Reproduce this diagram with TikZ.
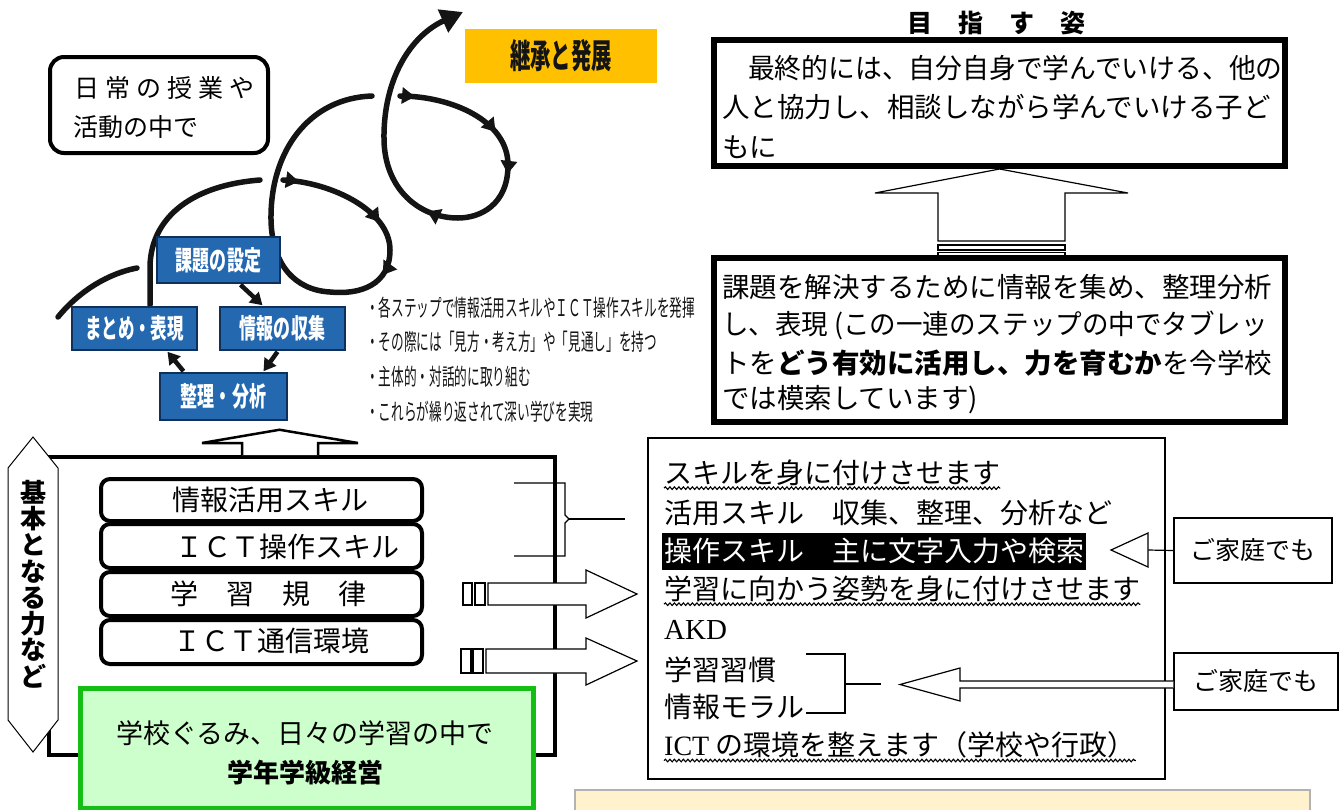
\documentclass[tikz,border=0pt]{standalone}
\usepackage{fontspec}
\usepackage{graphicx}
\setmainfont{Noto Sans CJK JP}
\newfontfamily\lserif{Liberation Serif}
\usetikzlibrary{arrows.meta,decorations.markings,decorations.pathmorphing,calc}
\newcommand{\fsz}[1]{\fontsize{#1}{#1}\selectfont}
\definecolor{bluefill}{RGB}{36,104,176}
\definecolor{bluedark}{RGB}{16,48,92}
\definecolor{orangey}{RGB}{255,192,0}
\definecolor{greenfill}{RGB}{204,255,204}
\definecolor{greenline}{RGB}{20,190,20}
\definecolor{cream}{RGB}{255,242,204}
\definecolor{ink}{RGB}{20,20,20}
\begin{document}
\begin{tikzpicture}[x=1pt,y=-1pt,
  txt/.style={inner sep=0pt},
  strand/.style={line width=5.5pt, draw=ink, line cap=round},
  bluebox/.style={draw=bluedark, fill=bluefill, line width=1.5pt, inner sep=0pt, text=white, font=\fsz{27}\bfseries},
  innerarrow/.style={line width=4.5pt, draw=ink, -{Triangle[length=12pt,width=14pt]}},
  skillbox/.style={draw, line width=4pt, rounded corners=9pt, minimum width=321pt, inner sep=0pt},
  hollow/.style={draw, line width=1.2pt, fill=white},
  thinline/.style={line width=1.2pt},
  wavy/.style={line width=1.1pt, decorate, decoration={snake, amplitude=1.3pt, segment length=4.5pt}},
  bigframe/.style={draw, line width=6pt, minimum width=571pt, inner sep=0pt},
  linetext/.style={inner sep=0pt, anchor=west, font=\fsz{27.5}},
  sktext/.style={inner sep=0pt, anchor=west, font=\fsz{28}},
  kateibox/.style={draw, line width=1.2pt, inner sep=0pt, font=\fsz{25}},
  bullet/.style={inner sep=0pt, anchor=west, font=\fsz{23}, text=ink}
]
\useasboundingbox (0,0) rectangle (1343,809);

% ---------- spiral strands ----------
\draw[strand] (58,317) .. controls (80,290) and (110,273) .. (137,268);
\draw[strand] (150,305) -- (150,265) .. controls (152,215) and (195,185) .. (260,180);
\draw[strand, postaction={decorate}, decoration={markings,
    mark=at position 16pt with {\arrow{Triangle[length=13pt,width=16pt]}},
    mark=at position 108pt with {\arrow{Triangle[length=13pt,width=16pt]}},
    mark=at position 165pt with {\arrow{Triangle[length=13pt,width=16pt]}}}]
  (283,180) .. controls (330,182) and (390,210) .. (390,250)
  .. controls (390,285) and (360,295) .. (330,292)
  .. controls (295,290) and (272,265) .. (271,220)
  .. controls (270,150) and (310,98) .. (372,96);
\draw[strand, -{Triangle[length=22pt,width=24pt]}, postaction={decorate}, decoration={markings,
    mark=at position 15pt with {\arrow{Triangle[length=13pt,width=16pt]}},
    mark=at position 105pt with {\arrow{Triangle[length=13pt,width=16pt]}},
    mark=at position 150pt with {\arrow{Triangle[length=13pt,width=16pt]}},
    mark=at position 255pt with {\arrow{Triangle[length=13pt,width=16pt]}}}]
  (400,96) .. controls (450,96) and (508,120) .. (508,165)
  .. controls (508,205) and (480,218) .. (458,218)
  .. controls (420,218) and (385,190) .. (384,140)
  .. controls (383,80) and (410,36) .. (463,12);

% ---------- blue step boxes ----------
\node[bluebox, minimum width=123pt, minimum height=46pt] (kadai) at (218.5,260) {\scalebox{0.63}[1]{課題の設定}};
\node[bluebox, minimum width=125pt, minimum height=43pt] (matome) at (134.5,328.5) {\scalebox{0.61}[1]{まとめ・表現}};
\node[bluebox, minimum width=125pt, minimum height=43pt] (joho) at (282.5,328.5) {\scalebox{0.63}[1]{情報の収集}};
\node[bluebox, minimum width=127pt, minimum height=47pt] (seiri) at (223.5,396.5) {\scalebox{0.63}[1]{整理・分析}};
\draw[innerarrow] ($(kadai.south)+(22,1)$) -- ($(joho.north)+(-20,-1)$);
\draw[innerarrow] ($(joho.south)+(-5,1)$) -- ($(seiri.north)+(40,-1)$);
\draw[innerarrow] ($(seiri.north)+(-40,-1)$) -- ($(matome.south)+(33,1)$);

% ---------- daily box ----------
\node[draw, line width=4pt, rounded corners=14pt, minimum width=218pt, minimum height=96pt] (daily) at (159,105) {};
\node[txt, anchor=west, font=\fsz{25}] (daily1) at (74,88) {日\hspace{6pt}常\hspace{6pt}の\hspace{6pt}授\hspace{6pt}業\hspace{6pt}や};
\node[txt, anchor=west, font=\fsz{25}] (daily2) at (73,127) {活動の中で};

% ---------- yellow label ----------
\node[fill=orangey, minimum width=192pt, minimum height=54pt, inner sep=0pt] (keisho) at (561,56) {\scalebox{0.6}[1]{\fsz{34}\bfseries\color{ink}継承と発展}};

% ---------- bullets ----------
\node[bullet] (b1) at (366,308) {\scalebox{0.55}[1]{・各ステップで情報活用スキルやＩＣＴ操作スキルを発揮}};
\node[bullet] (b2) at (366,342) {\scalebox{0.55}[1]{・その際には「見方・考え方」や「見通し」を持つ}};
\node[bullet] (b3) at (366,377) {\scalebox{0.55}[1]{・主体的・対話的に取り組む}};
\node[bullet] (b4) at (366,412) {\scalebox{0.55}[1]{・これらが繰り返されて深い学びを実現}};

% ---------- big frame ----------
\node[draw, line width=4pt, minimum width=506pt, minimum height=298pt, inner sep=0pt] (bigbox) at (302,606) {};
\draw[hollow, line width=2.5pt] ($(bigbox.north)+(-60,0)$) -- ++(0,-12) -- ++(-40,0) -- ($(seiri.south)+(56,9)$) -- ($(bigbox.north)+(56,-12)$) -- ++(-40,0) -- ($(bigbox.north)+(16,0)$);

% hexagon
\draw[line width=1pt, fill=white] (8,468) -- (33,437) -- (58,468) -- (58,720) -- (33,752) -- (8,720) -- cycle;
\node[txt, align=center, font=\fontsize{26}{26.3}\selectfont\bfseries] (kihon) at (33,584) {基\\本\\と\\な\\る\\力\\な\\ど};

% skill boxes
\node[skillbox, minimum height=42pt] (sk1) at (261.5,500) {};
\node[skillbox, minimum height=44pt] (sk2) at (261.5,546) {};
\node[skillbox, minimum height=44pt] (sk3) at (261.5,594) {};
\node[skillbox, minimum height=44pt] (sk4) at (261.5,642) {};
\node[txt, font=\fsz{28}] (sk1t) at (270,500) {情報活用スキル};
\node[txt, font=\fsz{28}] (sk2t) at (287,547) {ＩＣＴ操作スキル};
\node[txt, font=\fsz{28}] (sk3t) at (268,594) {学\hspace{28pt}習\hspace{28pt}規\hspace{28pt}律};
\node[txt, font=\fsz{28}] (sk4t) at (271,641) {ＩＣＴ通信環境};

% bracket
\coordinate (brtip) at (625,519);
\draw[thinline] (514,483) -- (565,483) -- (565,515) -- (569,519) -- (565,523) -- (565,556) -- (514,556);
\draw[thinline] (569,519) -- (brtip);

% striped arrows
\draw[hollow] (463,583) rectangle (472,605);
\draw[hollow] (475,583) rectangle (485,605);
\draw[hollow] (488,583) -- (586,583) -- (586,570) -- (637,594) -- (586,618) -- (586,605) -- (488,605) -- cycle;
\draw[hollow] (461,649) rectangle (471,673);
\draw[hollow] (473,649) rectangle (483,673);
\draw[hollow] (486,649) -- (586,649) -- (586,638) -- (637,661) -- (586,685) -- (586,673) -- (486,673) -- cycle;

% green box
\node[draw=greenline, fill=greenfill, line width=5pt, minimum width=453pt, minimum height=120pt, inner sep=0pt] (green) at (306.5,748) {};
\node[txt, font=\fsz{27}] (g1) at (305,733) {学校ぐるみ、日々の学習の中で};
\node[txt, font=\fsz{26}\bfseries] (g2) at (305,773) {学年学級経営};

% ---------- right top ----------
\node[txt, font=\fsz{25}\bfseries] (mezasu) at (996,23) {目\hspace{26pt}指\hspace{26pt}す\hspace{26pt}姿};
\node[bigframe, minimum height=126pt] (goal) at (999.5,103) {};
\node[linetext] (goal1) at (748,68) {\scalebox{0.974}[1]{最終的には、自分自身で学んでいける、他の}};
\node[linetext] (goal2) at (722,107) {人と協力し、相談しながら学んでいける子ど};
\node[linetext] (goal3) at (722,147) {もに};

\node[bigframe, minimum height=164pt] (task) at (999.5,340) {};
\draw[hollow] (938,241) -- (938,193) -- (875,193) -- (goal.south) -- (1128,193) -- (1065,193) -- (1065,241) -- cycle;
\draw[thinline] (938,245) rectangle (1065,250);
\draw[thinline] (938,252.5) rectangle (1065,255.5);
\node[linetext] (task1) at (722,287) {課題を解決するために情報を集め、整理分析};
\node[linetext] (task2) at (722,325) {\scalebox{0.965}[1]{し、表現 (この一連のステップの中でタブレッ}};
\node[linetext] (task3) at (722,363) {トを{\bfseries どう有効に活用し、力を育むか}を今学校};
\node[linetext] (task4) at (722,400) {では模索しています)};

% ---------- right lower ----------
\node[draw, line width=2.5pt, minimum width=517pt, minimum height=341pt, inner sep=0pt] (skills) at (906.5,608.5) {};
\node[sktext] (s1) at (664,473) {スキルを身に付けさせます};
\node[sktext] (s2) at (664,513) {活用スキル　収集、整理、分析など};
\node[sktext, fill=black, text=white, inner xsep=2pt, minimum height=37pt] (s3) at (662,551) {操作スキル　主に文字入力や検索};
\node[sktext] (s4) at (664,589) {学習に向かう姿勢を身に付けさせます};
\node[sktext, font=\fsz{29}\lserif] (s5) at (664,630) {AKD};
\node[sktext] (s6) at (664,670) {学習習慣};
\node[sktext] (s7) at (664,707) {情報モラル};
\node[sktext] (s8) at (664,745) {{\lserif ICT} の環境を整えます（学校や行政）};
\draw[wavy] ($(s1.south west)+(0,2)$) -- ($(s1.south east)+(0,2)$);
\draw[wavy] ($(s4.south west)+(0,2)$) -- ($(s4.south east)+(0,2)$);
\draw[wavy] ($(s8.south west)+(0,2)$) -- ($(s8.south east)+(0,2)$);

% bracket 2
\coordinate (br2tip) at (881,684);
\draw[thinline] (806,654) -- (845,654) -- (845,713) -- (806,713);
\draw[thinline] (845,684) -- (br2tip);

% katei boxes and arrows
\node[kateibox, minimum width=158pt, minimum height=65pt] (katei1) at (1253,550.5) {ご家庭でも};
\node[kateibox, minimum width=164pt, minimum height=57pt] (katei2) at (1256,681.5) {ご家庭でも};
\coordinate (tip1) at (1111,550);
\draw[thinline] (katei1.west) -- (1148,550);
\draw[hollow] (1148,550) -- (1148,533) -- (tip1) -- (1148,567) -- cycle;
\coordinate (tip2) at (900,684.5);
\draw[hollow] ($(katei2.west)+(0,-0.5)$) -- (960,681) -- (960,668) -- (tip2) -- (960,701) -- (960,688) -- ($(katei2.west)+(0,6.5)$);

% bottom cream box
\draw[draw=gray!60, line width=2pt, fill=cream] (575,790) rectangle (1310,815);
\end{tikzpicture}
\end{document}
